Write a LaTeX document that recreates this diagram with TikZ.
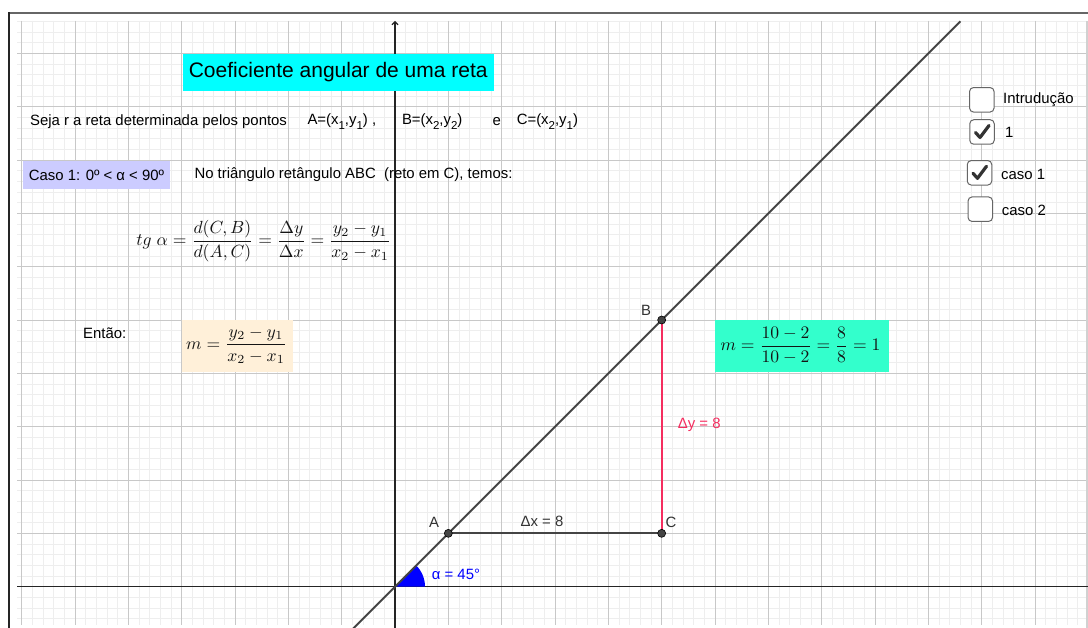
\documentclass[tikz,border=0pt]{standalone}
\usepackage[no-math]{fontspec}
\setmainfont{Liberation Sans}
\usepackage{amsmath}
\usetikzlibrary{arrows.meta}
\definecolor{minorc}{RGB}{238,238,238}
\definecolor{majorc}{RGB}{200,200,200}
\definecolor{axisc}{RGB}{37,37,37}
\definecolor{linec}{RGB}{68,68,68}
\definecolor{titlec}{RGB}{0,255,255}
\definecolor{casoc}{RGB}{204,204,255}
\definecolor{peachc}{RGB}{255,240,217}
\definecolor{greenc}{RGB}{51,255,204}
\definecolor{redc}{RGB}{245,45,95}
\definecolor{dgray}{RGB}{51,51,51}
\definecolor{mathc}{RGB}{20,20,20}
\definecolor{boxc}{RGB}{102,102,102}
\newcommand{\sbs}[1]{\raisebox{-0.6ex}{\fontsize{11.5}{11.5}\selectfont #1}}
\begin{document}
\begin{tikzpicture}[x=1pt,y=-1pt,
  every node/.style={font=\fontsize{14.9}{18}\selectfont, inner sep=0pt},
  minorl/.style={draw=minorc, line width=0.9pt},
  majorl/.style={draw=majorc, line width=0.9pt},
  axisl/.style={draw=axisc, line width=1.1pt},
  liner/.style={draw=linec, line width=2pt},
  dotp/.style={circle, fill=linec, draw=black, line width=0.6pt, minimum size=8pt},
  ptlabel/.style={text=dgray},
  mathf/.style={scale=1.76, font=\fontsize{10}{12}\selectfont, text=mathc},
  cbox/.style={draw=boxc, line width=1pt, rounded corners=4pt, fill=white, minimum size=24.5pt},
  checkm/.style={draw=dgray, line width=3.2pt, line cap=round, line join=round}
]
\useasboundingbox (0,0) rectangle (1088,628);
\fill[white] (0,0) rectangle (1088,628);
% grid
\begin{scope}
\clip (17,21) rectangle (1088,625);
\foreach \k in {-36,...,65} \draw[minorl] ({395+\k*10.6667},21) -- ++(0,604);
\foreach \k in {-3,...,53} \draw[minorl] (17,{586.667-\k*10.6667}) -- ++(1071,0);
\foreach \k in {-8,...,13} \draw[majorl] ({395+\k*53.3333},21) -- ++(0,604);
\foreach \k in {-1,...,11} \draw[majorl] (17,{586.667-\k*53.3333}) -- ++(1071,0);
\end{scope}
\fill[black!18] (1085.5,21) rectangle (1088,628);
% frame
\draw[draw=boxc, line width=1.6pt] (8.2,13) -- (1088,13);
\draw[draw=axisc, line width=1.6pt] (9,12.2) -- (9,628);
% axes
\coordinate (xl) at (17,586.667);
\coordinate (xr) at (1088,586.667);
\coordinate (yb) at (395,628);
\coordinate (yt) at (395,21);
\draw[axisl] (xl) -- (xr);
\draw[axisl, -{Straight Barb[length=3pt,width=6pt]}] (yb) -- (yt);
% graph
\begin{scope}[shift={(395pt,-586.667pt)}, x=26.667pt, y=26.667pt]
\coordinate (O) at (0,0);
\coordinate (A) at (2,2);
\coordinate (B) at (10,10);
\coordinate (C) at (10,2);
\coordinate (r1) at (-1.6,-1.6);
\coordinate (r2) at (21.2,21.2);
\fill[blue] (O) -- (1.125,0) arc[start angle=0, end angle=45, radius=1.125] -- cycle;
\draw[liner] (r1) -- (r2);
\draw[draw=linec, line width=2pt] (A) -- (C);
\draw[draw=redc, line width=2pt] (C) -- (B);
\node[dotp] (dA) at (A) {};
\node[dotp] (dB) at (B) {};
\node[dotp] (dC) at (C) {};
\end{scope}
\node[ptlabel] (lA) at (434,522.7) {A};
\node[ptlabel] (lB) at (646,310) {B};
\node[ptlabel] (lC) at (671,522) {C};
\node[text=dgray] (ldx) at (542,521.5) {Δx = 8};
\node[text=redc, anchor=west] (ldy) at (677.7,425) {Δy = 8};
\node[text=blue, anchor=west] (lal) at (431.7,574) {α = 45°};
% title
\node[fill=titlec, minimum width=311.5pt, minimum height=36.7pt, font=\fontsize{21}{24}\selectfont] (title) at (338.25,72.35) {Coeficiente angular de uma reta};
% text lines
\node[anchor=west] (t1) at (30,121.5) {Seja r a reta determinada pelos pontos};
\node[anchor=west] (t2) at (307.3,121.5) {A=(x\sbs{1},y\sbs{1}) ,};
\node[anchor=west] (t3) at (401.8,121.5) {B=(x\sbs{2},y\sbs{2})};
\node[anchor=west] (t4) at (492.5,121.5) {e};
\node[anchor=west] (t5) at (516.6,121.5) {C=(x\sbs{2},y\sbs{1})};
\node[fill=casoc, minimum width=146.3pt, minimum height=28pt] (caso) at (96.5,175) {Caso 1: 0º < α < 90º};
\node[anchor=west] (t6) at (194.3,174.5) {No triângulo retângulo ABC\ \ (reto em C), temos:};
\node[mathf, anchor=west] (tg) at (136,241.5) {$\displaystyle tg\ \alpha=\frac{d(C,B)}{d(A,C)}=\frac{\Delta y}{\Delta x}=\frac{y_2-y_1}{x_2-x_1}$};
\node[anchor=west] (entao) at (83,333.3) {Então:};
\node[fill=peachc, minimum width=111pt, minimum height=51.7pt] (pbox) at (237.2,345.85) {};
\node[mathf] (mf) at (236.5,345.5) {$\displaystyle m=\frac{y_2-y_1}{x_2-x_1}$};
\node[fill=greenc, minimum width=173.7pt, minimum height=51.7pt] (gbox) at (801.85,345.85) {};
\node[mathf] (gf) at (800.5,345.5) {$\displaystyle m=\frac{10-2}{10-2}=\frac{8}{8}=1$};
% checkboxes
\node[cbox] (cb1) at (981.8,99.8) {};
\node[cbox] (cb2) at (982,132) {};
\node[cbox] (cb3) at (979.5,172.8) {};
\node[cbox] (cb4) at (980.3,209.2) {};
\draw[checkm] ([shift={(-6.5,0.5)}]cb2.center) -- ([shift={(-2,5.5)}]cb2.center) -- ([shift={(7,-6.5)}]cb2.center);
\draw[checkm] ([shift={(-6.5,0.5)}]cb3.center) -- ([shift={(-2,5.5)}]cb3.center) -- ([shift={(7,-6.5)}]cb3.center);
\node[anchor=west] (l1) at (1003,100) {Intrudução};
\node[anchor=west] (l2) at (1005,132) {1};
\node[anchor=west] (l3) at (1001,174) {caso 1};
\node[anchor=west] (l4) at (1001.7,210) {caso 2};
\end{tikzpicture}
\end{document}
